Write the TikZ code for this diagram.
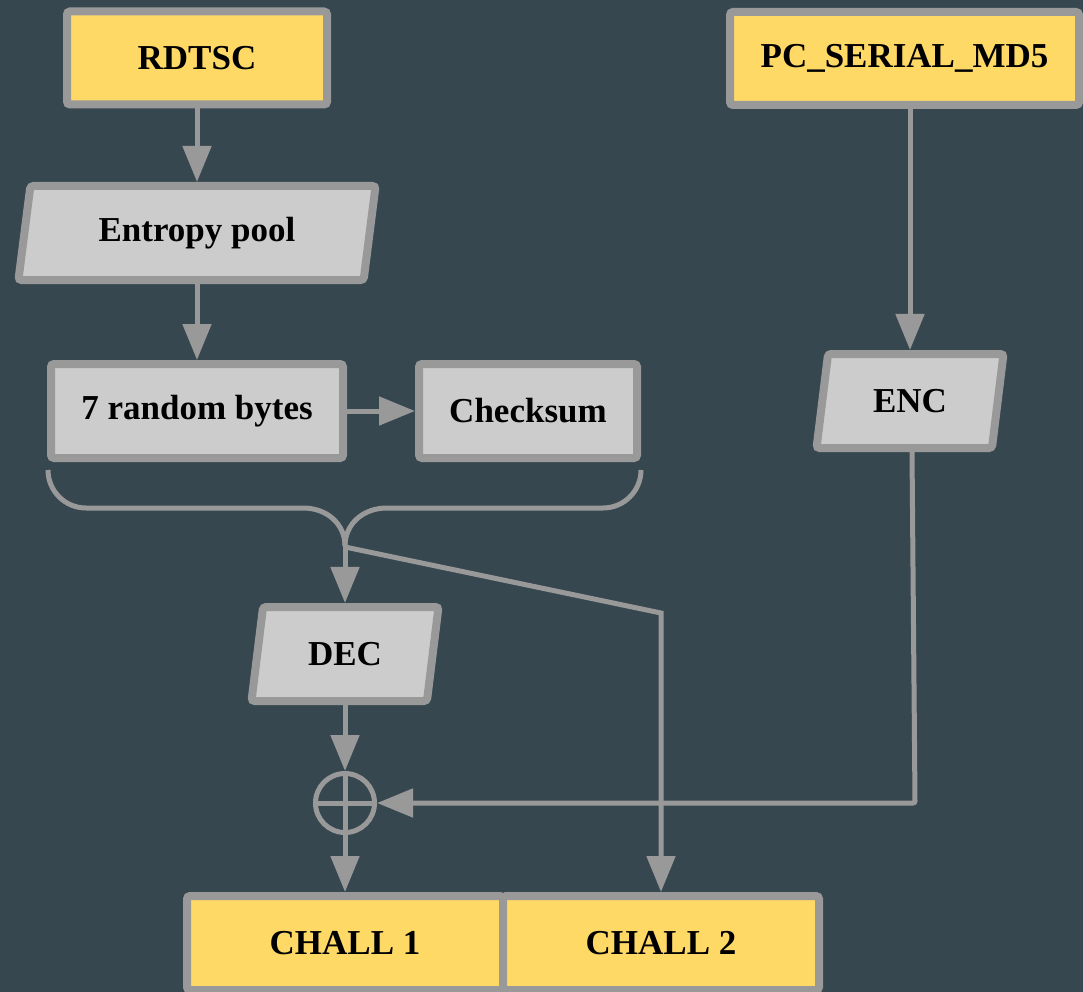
\documentclass[tikz,border=0pt]{standalone}
\usepackage{fontspec}
\setmainfont{Liberation Serif}
\usetikzlibrary{shapes.geometric,arrows.meta}
\definecolor{bg}{HTML}{37474F}
\definecolor{boxyellow}{HTML}{FFD966}
\definecolor{boxgray}{HTML}{CCCCCC}
\definecolor{edge}{HTML}{999999}

\begin{document}
\begin{tikzpicture}[x=1pt,y=-1pt,
  every node/.style={font=\fontsize{35}{40}\selectfont\bfseries, text=black, inner sep=0pt},
  base/.style={draw=edge, line width=8pt, rounded corners=3pt},
  srcbox/.style={base, fill=boxyellow, rectangle, minimum height=93pt},
  procbox/.style={base, fill=boxgray, rectangle, minimum height=94pt},
  iobox/.style={base, fill=boxgray, trapezium, trapezium left angle=77.5,
    trapezium right angle=102.5, trapezium stretches=true, minimum height=94pt},
  conn/.style={draw=edge, line width=5pt},
  arr/.style={conn, -{Triangle[length=36pt,width=28pt]}},
  ]
\fill[bg] (0,0) rectangle (1083,992);
\useasboundingbox (0,0) rectangle (1083,992);

% inputs
\node[srcbox, minimum width=260pt] (rdtsc) at (197,58) {RDTSC};
\node[srcbox, minimum width=349pt] (pc) at (904.5,58.5) {PC\_SERIAL\_MD5};

% processing steps
\node[iobox, minimum width=358pt] (pool) at (197,233) {Entropy pool};
\node[procbox, minimum width=292pt] (rb) at (197,411) {7 random bytes};
\node[procbox, minimum width=218pt] (cs) at (528,411) {Checksum};
\node[iobox, minimum width=188pt] (dec) at (345,654) {DEC};
\node[iobox, minimum width=188pt] (enc) at (910,401) {ENC};
\node[circle, draw=edge, line width=5pt, minimum size=59pt] (xor) at (345,803) {};

% outputs
\node[srcbox, minimum width=316pt, minimum height=94pt] (c1) at (345,943) {CHALL 1};
\node[srcbox, minimum width=316pt, minimum height=94pt] (c2) at (661,943) {CHALL 2};

% xor sign
\draw[conn] (xor.north) -- (xor.south);
\draw[conn] (xor.west) -- (xor.east);

% straight flows
\draw[arr] (rdtsc) -- (pool);
\draw[arr] (pool) -- (rb);
\draw[arr] (rb) -- (cs);
\draw[arr] (enc.north |- pc.south) -- (enc.north);
\draw[arr] (dec) -- (xor);
\draw[arr] (xor) -- (c1);

% ENC joins the xor from the right
\coordinate (k) at ([xshift=5pt]enc.south |- xor);
\draw[arr, rounded corners=2pt] ([xshift=2pt]enc.south) -- (k) -- (xor);

% brace gathering random bytes and checksum
\coordinate (bl) at ([xshift=1pt,yshift=-8pt]rb.south west);
\coordinate (br) at ([yshift=-8pt]cs.south east);
\coordinate (hl1) at (86,508);
\coordinate (hl2) at (303,508);
\coordinate (hr1) at (603,508);
\coordinate (hr2) at (387,508);
\coordinate (m) at (345,546);
\draw[conn] (bl) .. controls +(0,21) and +(-21,0) .. (hl1) -- (hl2)
  .. controls +(24,0) and +(0,-22) .. (m);
\draw[conn] (br) .. controls +(0,21) and +(21,0) .. (hr1) -- (hr2)
  .. controls +(-24,0) and +(0,-22) .. (m);
\draw[arr] (m) -- (dec);

% second branch to CHALL 2
\coordinate (d) at (c2.north |- 0,613);
\draw[arr] ([yshift=-1pt]m) -- (d) -- (c2);
\end{tikzpicture}
\end{document}
